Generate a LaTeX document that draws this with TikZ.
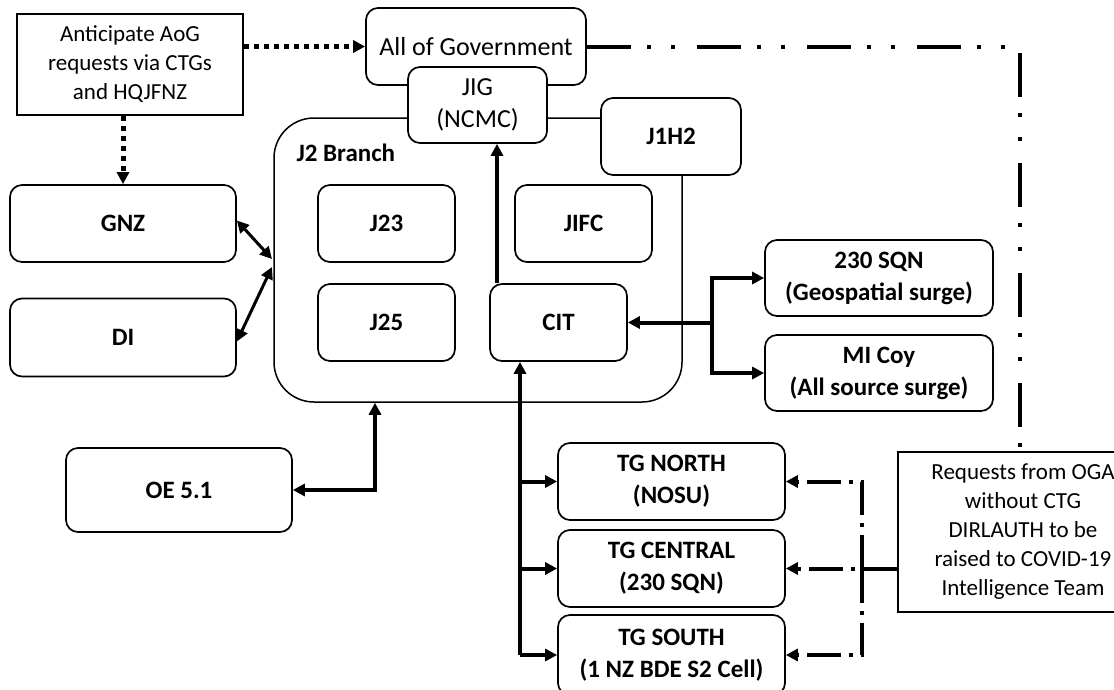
\documentclass[tikz,border=0pt]{standalone}
\usepackage{fontspec}
\setmainfont{Carlito}
\usetikzlibrary{arrows.meta}
\begin{document}
\begin{tikzpicture}[x=1pt,y=-1pt,
  txt/.style={font=\fontsize{23}{29}\selectfont},
  lab/.style={font=\fontsize{25}{32}\selectfont\bfseries},
  box/.style={draw, line width=1.7pt, rounded corners=12pt, fill=white, inner sep=0pt, align=center, lab},
  sqbox/.style={box, rounded corners=0pt, txt},
  thk/.style={line width=4pt},
  mid/.style={line width=3pt},
  >={Triangle[length=12pt,width=12pt]},
  dotl/.style={line width=5pt, dash pattern=on 5pt off 5pt},
  ddd/.style={line width=4pt, dash pattern=on 44pt off 16pt on 4pt off 20pt on 4pt off 22pt},
  rl/.style={line width=4pt, dash pattern=on 34pt off 8pt on 4pt off 8pt}
]
\useasboundingbox (0,0) rectangle (1114,689);
\fill[white] (0,0) rectangle (1114,689);

% top
\node[sqbox, minimum width=226pt, minimum height=101pt] (ant) at (130,64.5) {Anticipate AoG\\requests via CTGs\\and HQJFNZ};
\node[box, minimum width=220pt, minimum height=77pt, font=\fontsize{26}{32}\selectfont] (aog) at (476,46.5) {All of Government};
\node[draw, line width=1.5pt, rounded corners=40pt, minimum width=408pt, minimum height=284pt] (j2) at (478,260) {};
\node[lab, anchor=west] (j2lab) at (293,153) {J2 Branch};
\node[box, minimum width=139pt, minimum height=76pt, font=\fontsize{26}{32}\selectfont] (jig) at (477.5,105) {JIG\\(NCMC)};
\node[box, minimum width=140pt, minimum height=77pt] (j1h2) at (671,136.5) {J1H2};

% inside J2
\node[box, minimum width=137pt, minimum height=77pt] (j23) at (386.5,223.5) {J23};
\node[box, minimum width=137pt, minimum height=77pt] (j1fc) at (583.5,223.5) {JIFC};
\node[box, minimum width=137pt, minimum height=77pt] (j25) at (386.5,322.5) {J25};
\node[box, minimum width=137pt, minimum height=77pt] (cit) at (558.5,322.5) {CIT};

% left
\node[box, minimum width=226pt, minimum height=77pt] (gnz) at (123,223.5) {GNZ};
\node[box, minimum width=226pt, minimum height=78pt] (di) at (123,337.5) {DI};
\node[box, minimum width=226pt, minimum height=84pt] (oe) at (179,490) {OE 5.1};

% right
\node[box, minimum width=228pt, minimum height=76pt] (sqn) at (879,278) {230 SQN\\(Geospatial surge)};
\node[box, minimum width=228pt, minimum height=76pt] (mic) at (879,373) {MI Coy\\(All source surge)};

% TGs
\node[box, minimum width=227pt, minimum height=77pt] (tgn) at (671.5,481.5) {TG NORTH\\(NOSU)};
\node[box, minimum width=227pt, minimum height=77pt] (tgc) at (671.5,568.5) {TG CENTRAL\\(230 SQN)};
\node[box, minimum width=227pt, minimum height=80pt] (tgs) at (671.5,655) {TG SOUTH\\(1 NZ BDE S2 Cell)};

\node[sqbox, minimum width=250pt, minimum height=160pt] (req) at (1023,532) {Requests from OGA\\without CTG\\DIRLAUTH to be\\raised to COVID-19\\Intelligence Team};

% helper coordinates
\coordinate (cx) at (497,0);
\coordinate (hub) at (712,0);
\coordinate (oex) at (375,0);
\coordinate (tx) at (520,0);
\coordinate (rx) at (862,0);
\coordinate (jl1) at (272,259);
\coordinate (jl2) at (272,267);

% connectors
\draw[dotl,->] (ant.east |- aog.west) -- (aog.west);
\draw[dotl,->] (gnz.north |- ant.south) -- (gnz.north);
\draw[ddd] (aog.east) -| ([xshift=-3pt]req.north);

\draw[mid,<->] ([yshift=3pt]gnz.east) -- (jl1);
\draw[mid,<->] ([yshift=-4pt]di.east) -- (jl2);

\draw[thk,->] (cit.north -| cx) -- (jig.south -| cx);

\draw[thk,->] (cit.east -| hub) -- (cit.east);
\draw[thk,->] (cit.east -| hub) |- (sqn.west);
\draw[thk,->] (cit.east -| hub) |- (mic.west);

\draw[thk,<->] (oe.east) -| (j2.south -| oex);

\draw[thk,->] (tgs.west -| tx) -- (cit.south -| tx);
\draw[thk,->] (tgn.west -| tx) -- (tgn.west);
\draw[thk,->] (tgc.west -| tx) -- (tgc.west);
\draw[thk,->] (tgs.west -| tx) -- (tgs.west);

\draw[rl,->] (req.west |- tgc.east) -- (tgc.east);
\draw[rl,->] (tgc.east -| rx) |- (tgn.east);
\draw[rl,->] (tgc.east -| rx) |- (tgs.east);
\end{tikzpicture}
\end{document}
